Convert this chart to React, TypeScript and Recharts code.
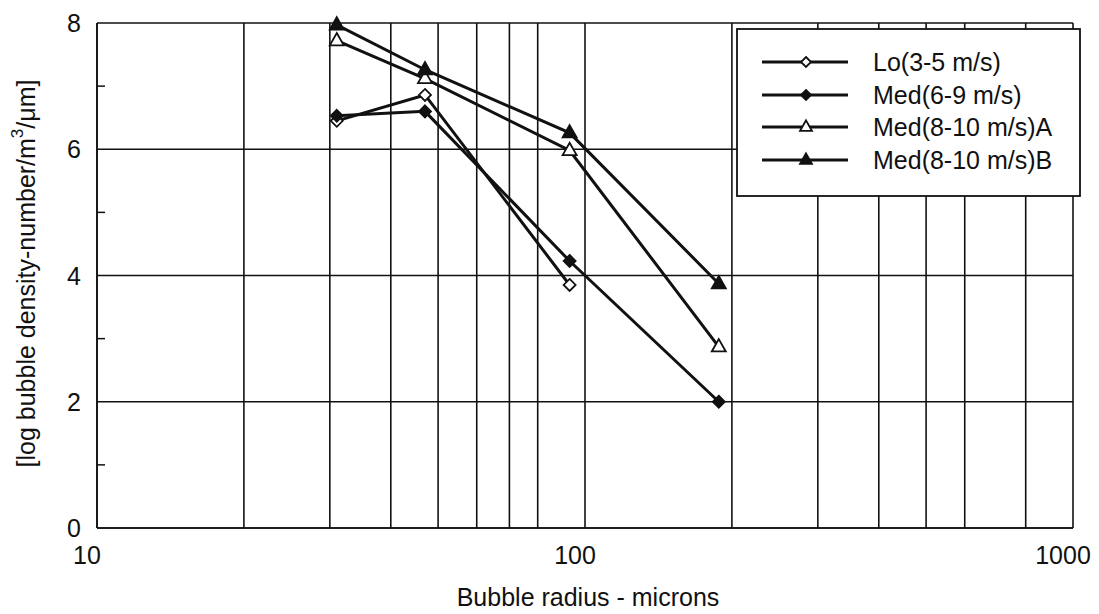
import { LineChart, Line, XAxis, YAxis, CartesianGrid, Legend, Label } from "recharts";

const radiusLo = [31, 47, 93];
const densityLo = [6.45, 6.86, 3.85];
const radiusMed = [31, 47, 93, 188];
const densityMed = [6.53, 6.6, 4.23, 2.0];
const radiusA = [31, 47, 93, 188];
const densityA = [7.72, 7.12, 5.98, 2.87];
const radiusB = [31, 47, 93, 188];
const densityB = [7.97, 7.26, 6.26, 3.87];

const xTicks = [10, 100, 1000];
const yTicks = [0, 1, 2, 3, 4, 5, 6, 7, 8];
const xGrid = [10, 20, 30, 40, 50, 60, 70, 80, 90, 100, 200, 300, 400, 500, 600, 700, 800, 900, 1000];
const yGrid = [0, 2, 4, 6, 8];

const toPoints = (xs: number[], ys: number[]) => xs.map((x, i) => ({ x, y: ys[i] }));

const FONT = "'Liberation Sans', Arial, Helvetica, sans-serif";
const INK = "#111";

type MarkerKind = "diamondOpen" | "diamondFilled" | "triangleOpen" | "triangleFilled";

const series: { name: string; data: { x: number; y: number }[]; marker: MarkerKind }[] = [
  { name: "Lo(3-5 m/s)", data: toPoints(radiusLo, densityLo), marker: "diamondOpen" },
  { name: "Med(6-9 m/s)", data: toPoints(radiusMed, densityMed), marker: "diamondFilled" },
  { name: "Med(8-10 m/s)A", data: toPoints(radiusA, densityA), marker: "triangleOpen" },
  { name: "Med(8-10 m/s)B", data: toPoints(radiusB, densityB), marker: "triangleFilled" },
];

function Marker({ kind, cx, cy, s }: { kind: MarkerKind; cx: number; cy: number; s: number }) {
  const filled = kind === "diamondFilled" || kind === "triangleFilled";
  const fill = filled ? INK : "#fff";
  if (kind === "diamondOpen" || kind === "diamondFilled") {
    const d = `M${cx},${cy - s} L${cx + s},${cy} L${cx},${cy + s} L${cx - s},${cy} Z`;
    return <path d={d} fill={fill} stroke={INK} strokeWidth={1.8} />;
  }
  const h = s * 1.1;
  const d = `M${cx},${cy - h} L${cx + s},${cy + h * 0.6} L${cx - s},${cy + h * 0.6} Z`;
  return <path d={d} fill={fill} stroke={INK} strokeWidth={1.8} />;
}

function YTick(props: any) {
  const { x, y, payload } = props;
  if (payload.value % 2 === 1) {
    return <line x1={x} y1={y} x2={x + 8} y2={y} stroke={INK} strokeWidth={1.5} />;
  }
  return (
    <text x={x - 16} y={y} textAnchor="end" dominantBaseline="central" fontSize={25} fontFamily={FONT} fill={INK}>
      {payload.value}
    </text>
  );
}

function XTick(props: any) {
  const { x, y, payload } = props;
  return (
    <text x={x - 10} y={y + 27} textAnchor="middle" dominantBaseline="central" fontSize={25} fontFamily={FONT} fill={INK}>
      {payload.value}
    </text>
  );
}

function YTitle(props: any) {
  const vb = props.viewBox;
  const cx = vb.x + 18;
  const cy = vb.y + vb.height / 2 - 2;
  return (
    <text
      x={cx}
      y={cy}
      transform={`rotate(-90 ${cx} ${cy})`}
      textAnchor="middle"
      dominantBaseline="central"
      fontSize={25}
      fontFamily={FONT}
      fill={INK}
    >
      [log bubble density-number/m
      <tspan dy={-9} fontSize={17}>3</tspan>
      <tspan dy={9}>/μm]</tspan>
    </text>
  );
}

function XTitle(props: any) {
  const vb = props.viewBox;
  return (
    <text
      x={vb.x + vb.width / 2 + 3}
      y={vb.y + 69}
      textAnchor="middle"
      dominantBaseline="central"
      fontSize={25}
      fontFamily={FONT}
      fill={INK}
    >
      Bubble radius - microns
    </text>
  );
}

function LegendBox() {
  const rows = [34, 67, 99, 132];
  return (
    <svg width={345} height={169} style={{ display: "block" }}>
      <rect x={1} y={1} width={343} height={167} fill="#fff" stroke={INK} strokeWidth={1.8} />
      {series.map((s, i) => (
        <g key={s.name}>
          <line x1={26} y1={rows[i]} x2={112} y2={rows[i]} stroke={INK} strokeWidth={2.8} />
          <Marker kind={s.marker} cx={70} cy={rows[i]} s={s.marker.startsWith("diamond") ? 5 : 6} />
          <text x={137} y={rows[i]} dominantBaseline="central" fontSize={25} fontFamily={FONT} fill={INK}>
            {s.name}
          </text>
        </g>
      ))}
    </svg>
  );
}

export default function App() {
  return (
    <div style={{ width: 1091, height: 606, background: "#fff" }}>
      <LineChart width={1091} height={606} margin={{ top: 15, right: 26, bottom: 0, left: 0 }}>
        <CartesianGrid
          horizontalValues={yGrid}
          verticalValues={xGrid}
          stroke={INK}
          strokeWidth={1.6}
          fill="#fff"
        />
        <XAxis
          type="number"
          dataKey="x"
          scale="log"
          domain={[10, 1000]}
          ticks={xTicks}
          allowDataOverflow
          height={86}
          tickSize={0}
          tickMargin={0}
          tickLine={false}
          axisLine={{ stroke: INK, strokeWidth: 1.6 }}
          tick={<XTick />}
        >
          <Label content={<XTitle />} />
        </XAxis>
        <YAxis
          type="number"
          dataKey="y"
          domain={[0, 8]}
          ticks={yTicks}
          width={89}
          tickSize={0}
          tickMargin={0}
          tickLine={false}
          interval={0}
          axisLine={{ stroke: INK, strokeWidth: 1.6 }}
          tick={<YTick />}
        >
          <Label content={<YTitle />} />
        </YAxis>
        <Legend
          layout="vertical"
          align="center"
          verticalAlign="middle"
          content={() => <LegendBox />}
          wrapperStyle={{ position: "absolute", left: 728, top: 20, width: 345, height: 169, margin: 0 }}
        />
        {series.map((s) => (
          <Line
            key={s.name}
            name={s.name}
            data={s.data}
            dataKey="y"
            type="linear"
            stroke={INK}
            strokeWidth={3}
            isAnimationActive={false}
            dot={(p: any) => (
              <Marker
                key={`${s.name}-${p.index}`}
                kind={s.marker}
                cx={p.cx}
                cy={p.cy}
                s={s.marker.startsWith("diamond") ? 6 : 7}
              />
            )}
            activeDot={false}
          />
        ))}
      </LineChart>
    </div>
  );
}
